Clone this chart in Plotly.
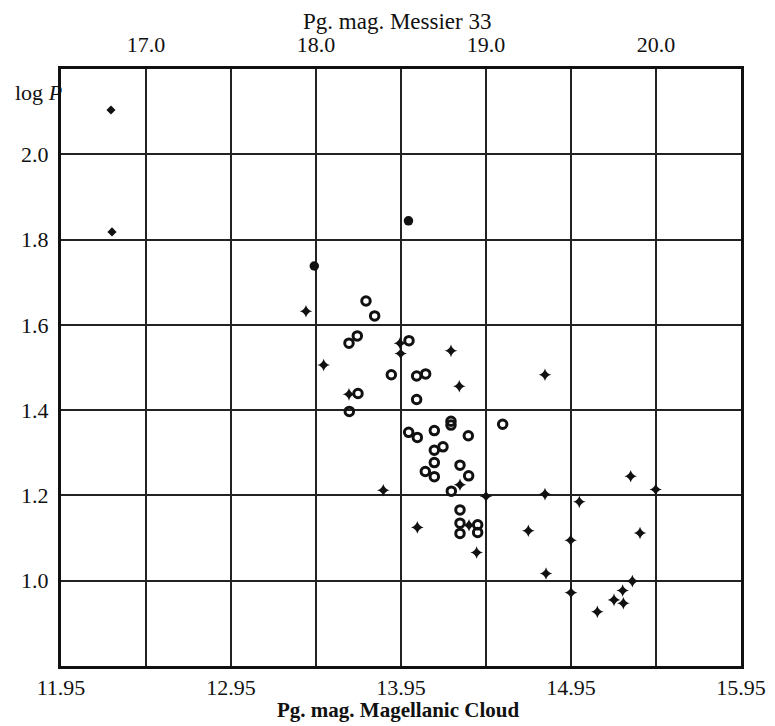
import plotly.graph_objects as go

# ---- data (Pg. mag. Magellanic Cloud, log P) ----
ring_mag = [13.744, 13.795, 13.693, 13.644, 13.997, 13.893, 14.042, 14.095, 13.697, 14.042,
            13.646, 14.244, 14.244, 14.548, 13.995, 14.046, 14.146, 14.346, 14.146, 14.197,
            14.146, 14.297, 14.093, 14.146, 14.348, 14.246, 14.297, 14.297, 14.401, 14.297,
            14.401]
ring_logp = [1.656, 1.621, 1.574, 1.557, 1.563, 1.483, 1.480, 1.485, 1.439, 1.425,
             1.397, 1.374, 1.365, 1.367, 1.348, 1.336, 1.352, 1.340, 1.306, 1.314,
             1.277, 1.271, 1.256, 1.244, 1.246, 1.210, 1.166, 1.135, 1.131, 1.111,
             1.113]

dot_mag = [13.440, 13.994]
dot_logp = [1.738, 1.844]

small_mag = [12.244, 12.250]
small_logp = [2.104, 1.818]

cross_mag = [13.391, 13.944, 13.948, 13.495, 14.244, 14.293, 13.644, 14.297,
             13.846, 14.450, 14.350, 14.046, 14.395, 14.699, 14.797, 15.301, 15.448, 14.797,
             14.999, 15.356, 14.948, 14.803, 15.311, 14.950, 15.254, 15.203, 15.258, 15.105]
cross_logp = [1.632, 1.557, 1.533, 1.506, 1.539, 1.456, 1.437, 1.225,
              1.212, 1.198, 1.130, 1.125, 1.066, 1.117, 1.483, 1.245, 1.214, 1.203,
              1.185, 1.112, 1.095, 1.017, 0.999, 0.972, 0.977, 0.955, 0.947, 0.927]

# axis ticks
bottom_ticks = [11.95, 12.45, 12.95, 13.45, 13.95, 14.45, 14.95, 15.45, 15.95]
bottom_labels = ["11.95", "", "12.95", "", "13.95", "", "14.95", "", "15.95"]
top_ticks = [17.0, 18.0, 19.0, 20.0]
top_labels = ["17.0", "18.0", "19.0", "20.0"]
y_ticks = [1.0, 1.2, 1.4, 1.6, 1.8, 2.0]
y_labels = ["1.0", "1.2", "1.4", "1.6", "1.8", "2.0"]
m33_offset = 4.55  # M33 mag = MC mag + offset

FONT = "Liberation Serif, Times New Roman, serif"
INK = "#111"

fig = go.Figure()
fig.add_trace(go.Scatter(x=ring_mag, y=ring_logp, mode="markers", showlegend=False,
                         marker=dict(symbol="circle-open", size=8.5, color=INK,
                                     line=dict(width=3, color=INK))))
fig.add_trace(go.Scatter(x=dot_mag, y=dot_logp, mode="markers", showlegend=False,
                         marker=dict(symbol="circle", size=9.5, color=INK)))
fig.add_trace(go.Scatter(x=small_mag, y=small_logp, mode="markers", showlegend=False,
                         marker=dict(symbol="diamond", size=7, color=INK)))
fig.add_trace(go.Scatter(x=cross_mag, y=cross_logp, mode="markers", showlegend=False,
                         marker=dict(symbol="star-diamond", size=9, color=INK,
                                     line=dict(width=0))))
# invisible trace to activate the top axis
fig.add_trace(go.Scatter(x=[top_ticks[0]], y=[1.0], xaxis="x2", yaxis="y",
                         mode="markers", marker=dict(opacity=0), showlegend=False,
                         hoverinfo="skip"))

fig.update_layout(
    width=775, height=726,
    margin=dict(l=61, r=34, t=69, b=60, autoexpand=False),
    paper_bgcolor="white", plot_bgcolor="white",
    font=dict(family=FONT, size=22, color=INK),
    xaxis=dict(range=[11.95, 15.95], tickmode="array", tickvals=bottom_ticks,
               ticktext=bottom_labels, showgrid=True, gridcolor="#222", gridwidth=1.6,
               showline=True, linecolor=INK, linewidth=3, mirror=True, automargin=False,
               ticks="", zeroline=False, ticklabelstandoff=0),
    xaxis2=dict(range=[11.95 + m33_offset, 15.95 + m33_offset], overlaying="x",
                side="top", tickmode="array", tickvals=top_ticks, ticktext=top_labels,
                showgrid=False, zeroline=False, ticks="", ticklabelstandoff=12,
                automargin=False),
    yaxis=dict(range=[0.8, 2.2], tickmode="array", tickvals=y_ticks, ticktext=y_labels,
               showgrid=True, gridcolor="#222", gridwidth=1.6, automargin=False,
               showline=True, linecolor=INK, linewidth=3, mirror=True,
               ticks="", zeroline=False, ticklabelstandoff=5),
    annotations=[
        dict(text="log <i>P</i>", xref="paper", yref="y", x=0.004, y=2.145,
             xanchor="right", yanchor="middle", showarrow=False,
             font=dict(family=FONT, size=22, color=INK)),
        dict(text="Pg. mag. Messier 33", xref="paper", yref="paper", x=0.494, y=1.079,
             xanchor="center", yanchor="middle", showarrow=False,
             font=dict(family=FONT, size=23, color=INK)),
        dict(text="<b>Pg. mag. Magellanic Cloud</b>", xref="paper", yref="paper",
             x=0.496, y=-0.0745, xanchor="center", yanchor="middle", showarrow=False,
             font=dict(family=FONT, size=21, color=INK)),
    ],
)

fig.write_html("out.html", config={"displayModeBar": False},
               post_script="document.body.style.margin='0px';document.body.style.overflow='hidden';")
